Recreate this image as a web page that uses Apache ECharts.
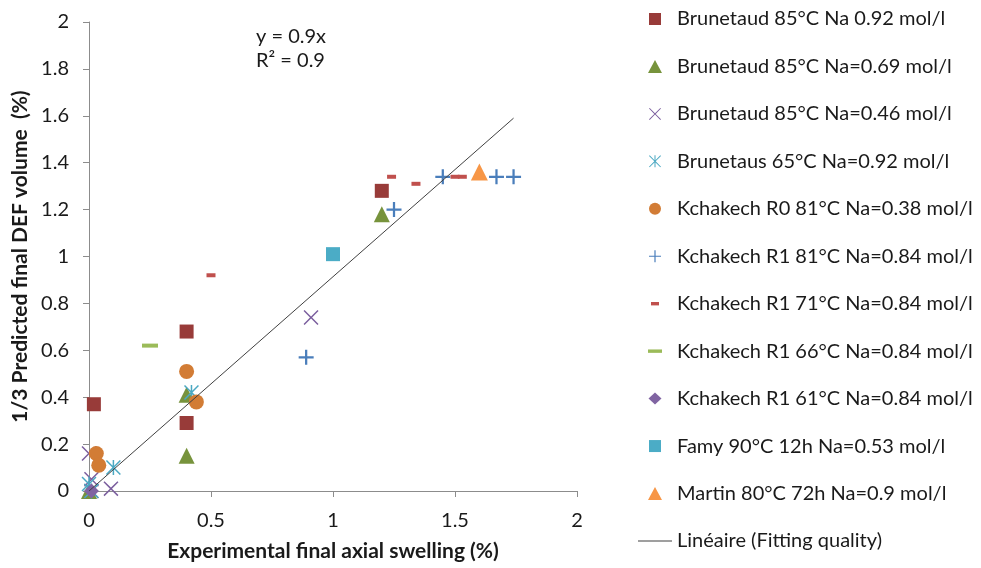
<!DOCTYPE html>
<html><head><meta charset="utf-8">
<script src="https://cdn.jsdelivr.net/npm/echarts@6/dist/echarts.min.js"></script>
<style>html,body{margin:0;padding:0;background:#fff}#c{width:981px;height:568px}</style>
</head><body><div id="c"></div>
<script>
// ---- data ----
const xTicks = [0, 0.5, 1, 1.5, 2];
const yTicks = [0, 0.2, 0.4, 0.6, 0.8, 1, 1.2, 1.4, 1.6, 1.8, 2];
const seriesNames = [
  'Brunetaud 85°C Na 0.92 mol/l',
  'Brunetaud 85°C Na=0.69 mol/l',
  'Brunetaud 85°C Na=0.46 mol/l',
  'Brunetaus 65°C Na=0.92 mol/l',
  'Kchakech R0 81°C Na=0.38 mol/l',
  'Kchakech R1 81°C Na=0.84 mol/l',
  'Kchakech R1 71°C Na=0.84 mol/l',
  'Kchakech R1 66°C Na=0.84 mol/l',
  'Kchakech R1 61°C Na=0.84 mol/l',
  'Famy 90°C 12h Na=0.53 mol/l',
  'Martin 80°C 72h Na=0.9 mol/l'
];
const trendName = 'Linéaire (Fitting quality)';
const brunetaud092 = [[0.02, 0.37], [0.40, 0.68], [0.40, 0.29], [1.20, 1.28]];
const brunetaud069 = [[0.00, 0.00], [0.40, 0.41], [0.40, 0.15], [1.20, 1.18]];
const brunetaud046 = [[0.00, 0.16], [0.01, 0.05], [0.09, 0.01], [0.01, 0.00], [0.91, 0.74]];
const brunetaus65 = [[0.00, 0.03], [0.01, 0.00], [0.10, 0.10], [0.42, 0.42]];
const kchakechR0_81 = [[0.03, 0.16], [0.04, 0.11], [0.40, 0.51], [0.44, 0.38]];
const kchakechR1_81 = [[0.89, 0.57], [1.25, 1.20], [1.45, 1.34], [1.67, 1.34], [1.74, 1.34]];
const kchakechR1_71 = [[0.50, 0.92], [1.24, 1.34], [1.34, 1.31], [1.50, 1.34], [1.53, 1.34]];
const kchakechR1_66 = [[0.25, 0.62]];
const kchakechR1_61 = [[0.01, 0.00]];
const famy90 = [[1.00, 1.01]];
const martin80 = [[1.60, 1.36]];
const trendLine = [[0, 0], [1.74, 1.59]];
const equationLines = ['y = 0.9x', 'R² = 0.9'];

// ---- marker symbols ----
const PLUS = 'path://M-1.5,-10H1.5V-1.5H10V1.5H1.5V10H-1.5V1.5H-10V-1.5H-1.5Z';
const CROSS = 'path://M-10,-8.6L-8.6,-10L0,-1.4L8.6,-10L10,-8.6L1.4,0L10,8.6L8.6,10L0,1.4L-8.6,10L-10,8.6L-1.4,0Z';
const STAR = 'path://M-10,-8.6L-8.6,-10L0,-1.4L8.6,-10L10,-8.6L1.4,0L10,8.6L8.6,10L0,1.4L-8.6,10L-10,8.6L-1.4,0ZM-1,-10H1V10H-1Z';

// ---- legend icons (drawn inside a 34x13 box) ----
const BOX = 'path://M0,0M34,13';
const L_SQUARE = BOX + 'M11,0.5H23V12.5H11Z';
const L_TRI = BOX + 'M17,0L24,13H10Z';
const L_CROSS = BOX + 'M11.7,0.5L17,5.8L22.3,0.5L23,1.2L17.7,6.5L23,11.8L22.3,12.5L17,7.2L11.7,12.5L11,11.8L16.3,6.5L11,1.2Z';
const L_STAR = L_CROSS + 'M16.5,0.5H17.5V12.5H16.5Z';
const L_CIRCLE = BOX + 'M11,6.5A6,6 0 1 1 23,6.5A6,6 0 1 1 11,6.5Z';
const L_PLUS = BOX + 'M16.4,0.5H17.6V5.9H23V7.1H17.6V12.5H16.4V7.1H11V5.9H16.4Z';
const L_DASH_S = BOX + 'M13,4.8H21V8.2H13Z';
const L_DASH_L = BOX + 'M10,4.8H24V8.2H10Z';
const L_DIAMOND = BOX + 'M17,0.5L23.5,6.5L17,12.5L10.5,6.5Z';
const L_LINE = BOX + 'M0,6H34V7H0Z';
const legendIcons = [L_SQUARE, L_TRI, L_CROSS, L_STAR, L_CIRCLE, L_PLUS, L_DASH_S, L_DASH_L, L_DIAMOND, L_SQUARE, L_TRI];

const FONT = 'Lato';
const TXT = '#1a1a1a';
function sc(name, data, symbol, size, color) {
  return {
    type: 'scatter', name: name, data: data, symbol: symbol, symbolSize: size,
    itemStyle: { color: color, opacity: 1 }, z: 2, emphasis: { disabled: true }
  };
}
const series = [
  sc(seriesNames[0], brunetaud092, 'rect', 14, '#983b39'),
  sc(seriesNames[1], brunetaud069, 'triangle', 16, '#77933c'),
  sc(seriesNames[2], brunetaud046, CROSS, 15, '#7b5e9e'),
  sc(seriesNames[3], brunetaus65, STAR, 15, '#4aa8c2'),
  sc(seriesNames[4], kchakechR0_81, 'circle', 15, '#d27c35'),
  sc(seriesNames[5], kchakechR1_81, PLUS, 15, '#4a7ebb'),
  sc(seriesNames[6], kchakechR1_71, 'rect', [9, 4], '#c0504d'),
  sc(seriesNames[7], kchakechR1_66, 'rect', [16, 4], '#9bbb59'),
  sc(seriesNames[8], kchakechR1_61, 'diamond', 15, '#8064a2'),
  sc(seriesNames[9], famy90, 'rect', 14, '#4bacc6'),
  sc(seriesNames[10], martin80, 'triangle', 17, '#f79646'),
  {
    type: 'line', name: trendName, data: trendLine, showSymbol: false, symbol: 'none',
    lineStyle: { color: '#404040', width: 1 }, itemStyle: { color: '#404040' }, z: 5,
    emphasis: { disabled: true }
  }
];

const legendData = seriesNames.map((n, i) => ({ name: n, icon: legendIcons[i] }))
  .concat([{ name: trendName, icon: L_LINE, itemStyle: { color: '#404040', borderWidth: 0 } }]);

const chart = echarts.init(document.getElementById('c'), null, { renderer: 'canvas' });
chart.setOption({
  animation: false,
  backgroundColor: '#fff',
  textStyle: { fontFamily: FONT },
  grid: { left: 89, right: 404, top: 22, bottom: 77, containLabel: false },
  xAxis: {
    type: 'value', min: xTicks[0], max: xTicks[xTicks.length - 1], interval: xTicks[1] - xTicks[0],
    name: 'Experimental final axial swelling (%)', nameLocation: 'middle', nameGap: 50,
    nameTextStyle: { fontFamily: FONT, fontSize: 21, fontWeight: 'bold', color: TXT },
    axisLine: { onZero: false, lineStyle: { color: '#8c8c8c', width: 1 } },
    axisTick: { show: true, inside: false, length: 6, lineStyle: { color: '#8c8c8c' } },
    axisLabel: { fontFamily: FONT, fontSize: 20, color: TXT, margin: 20 },
    splitLine: { show: false }
  },
  yAxis: {
    type: 'value', min: yTicks[0], max: yTicks[yTicks.length - 1], interval: yTicks[1] - yTicks[0],
    name: '1/3 Predicted final DEF volume  (%)', nameLocation: 'middle', nameGap: 58, nameRotate: 90,
    nameTextStyle: { fontFamily: FONT, fontSize: 21, fontWeight: 'bold', color: TXT },
    axisLine: { show: true, onZero: false, lineStyle: { color: '#8c8c8c', width: 1 } },
    axisTick: { show: true, inside: false, length: 6, lineStyle: { color: '#8c8c8c' } },
    axisLabel: { fontFamily: FONT, fontSize: 20, color: TXT, margin: 20 },
    splitLine: { show: false }
  },
  legend: {
    orient: 'vertical', left: 638, top: 9, padding: 0,
    itemWidth: 34, itemHeight: 13, itemGap: 27.45,
    data: legendData,
    itemStyle: { borderWidth: 0 },
    textStyle: { fontFamily: FONT, fontSize: 20, color: TXT, lineHeight: 20 },
    selectedMode: false
  },
  graphic: [{
    type: 'text', left: 256, top: 25, silent: true,
    style: { text: equationLines.join('\n'), font: '20px ' + FONT, fill: TXT, lineHeight: 24 }
  }],
  series: series
});
</script>
</body></html>
